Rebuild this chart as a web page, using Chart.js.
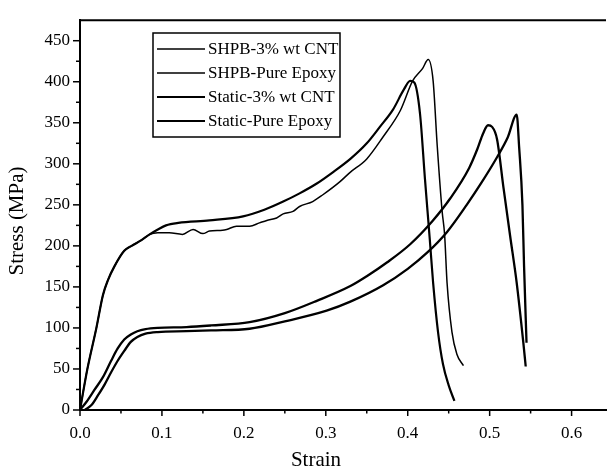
<!DOCTYPE html>
<html>
<head>
<meta charset="utf-8">
<script src="https://cdn.jsdelivr.net/npm/chart.js@4/dist/chart.umd.min.js"></script>
<style>
  html, body { margin: 0; padding: 0; background: #fff; }
  #wrap { width: 609px; height: 476px; }
</style>
</head>
<body>
<div id="wrap"><canvas id="chart" width="609" height="476"></canvas></div>
<script>
// values
const seriesNames = ['SHPB-3% wt CNT', 'SHPB-Pure Epoxy', 'Static-3% wt CNT', 'Static-Pure Epoxy'];

const shpbCntStrain = [0, 0.009, 0.02, 0.028, 0.034, 0.042, 0.054, 0.063, 0.075, 0.085, 0.095, 0.109, 0.125, 0.138, 0.15, 0.158, 0.174, 0.179, 0.191, 0.207, 0.219, 0.228, 0.24, 0.248, 0.26, 0.268, 0.284, 0.296, 0.317, 0.329, 0.35, 0.37, 0.391, 0.406, 0.418, 0.425, 0.431, 0.436, 0.442, 0.445, 0.448, 0.454, 0.46, 0.468];
const shpbCntStress = [0, 50, 100, 140, 158, 175, 194, 200, 207, 214, 216, 216, 214, 220, 215, 218, 219, 220, 224, 224, 228, 231, 234, 239, 242, 248, 254, 262, 278, 289, 306, 333, 365, 401, 416, 427, 401, 322, 242, 214, 155, 95, 68, 54];

const shpbPureStrain = [0, 0.009, 0.02, 0.028, 0.034, 0.042, 0.054, 0.063, 0.075, 0.085, 0.095, 0.105, 0.12, 0.158, 0.199, 0.225, 0.248, 0.268, 0.289, 0.309, 0.33, 0.35, 0.366, 0.382, 0.395, 0.403, 0.408, 0.415, 0.421, 0.427, 0.431, 0.437, 0.443, 0.45, 0.457];
const shpbPureStress = [0, 50, 100, 140, 158, 175, 194, 200, 207, 214, 220, 225, 228, 231, 236, 244, 254, 264, 276, 290, 306, 325, 345, 366, 390, 401, 399, 361, 282, 207, 155, 95, 56, 30, 11];

const staticCntStrain = [0, 0.008, 0.018, 0.028, 0.038, 0.046, 0.054, 0.062, 0.07, 0.08, 0.095, 0.13, 0.16, 0.207, 0.25, 0.289, 0.33, 0.35, 0.375, 0.403, 0.43, 0.452, 0.475, 0.485, 0.492, 0.498, 0.503, 0.509, 0.517, 0.525, 0.533, 0.541, 0.544];
const staticCntStress = [0, 10, 25, 40, 60, 75, 86, 92, 96, 98.5, 100, 101, 103, 107, 118, 133, 151, 163, 180, 202, 230, 258, 295, 318, 337, 347, 345, 330, 270, 212, 155, 83, 53];

const staticPureStrain = [0.006, 0.014, 0.022, 0.03, 0.038, 0.046, 0.054, 0.062, 0.07, 0.08, 0.095, 0.13, 0.16, 0.207, 0.25, 0.301, 0.33, 0.37, 0.4, 0.424, 0.448, 0.472, 0.49, 0.509, 0.522, 0.533, 0.536, 0.54, 0.542, 0.545];
const staticPureStress = [0, 6, 18, 31, 46, 60, 72, 83, 89, 93, 95, 96, 97, 99, 108, 121, 132, 152, 172, 192, 217, 250, 277, 308, 332, 360, 320, 250, 175, 82];

const xTicks = [0, 0.1, 0.2, 0.3, 0.4, 0.5, 0.6];
const yTicks = [0, 50, 100, 150, 200, 250, 300, 350, 400, 450];

const toPoints = (xs, ys) => xs.map((v, i) => ({ x: v, y: ys[i] }));

const serif = '"Liberation Serif", "Times New Roman", serif';

const decor = {
  id: 'decor',
  afterDraw(chart) {
    const ctx = chart.ctx;
    const a = chart.chartArea;
    const xs = chart.scales.x;
    const ys = chart.scales.y;
    ctx.save();
    ctx.strokeStyle = '#000';
    ctx.fillStyle = '#000';

    // top frame line
    ctx.lineWidth = 2;
    ctx.beginPath();
    ctx.moveTo(a.left - 1, a.top);
    ctx.lineTo(a.right, a.top);
    ctx.stroke();

    // tick marks, major and minor
    ctx.lineWidth = 1.5;
    for (let i = 0; i <= 12; i++) {
      const px = xs.getPixelForValue(i * 0.05);
      const len = i % 2 === 0 ? 6 : 3.5;
      ctx.beginPath();
      ctx.moveTo(px, a.bottom);
      ctx.lineTo(px, a.bottom + len);
      ctx.stroke();
    }
    for (let i = 0; i <= 18; i++) {
      const py = ys.getPixelForValue(i * 25);
      const len = i % 2 === 0 ? 7 : 4;
      ctx.beginPath();
      ctx.moveTo(a.left - len, py);
      ctx.lineTo(a.left, py);
      ctx.stroke();
    }

    // axis titles
    ctx.font = '21px ' + serif;
    ctx.textAlign = 'center';
    ctx.textBaseline = 'middle';
    ctx.fillText('Strain', 316, 460);
    ctx.translate(17, 221);
    ctx.rotate(-Math.PI / 2);
    ctx.fillText('Stress (MPa)', 0, 0);
    ctx.setTransform(1, 0, 0, 1, 0, 0);

    // legend box
    const box = { left: 153, top: 33, right: 340, bottom: 137 };
    ctx.lineWidth = 1.5;
    ctx.strokeRect(box.left, box.top, box.right - box.left, box.bottom - box.top);
    ctx.font = '17px ' + serif;
    ctx.textAlign = 'left';
    chart.data.datasets.forEach((ds, i) => {
      const ly = 49 + i * 24;
      ctx.lineWidth = i < 2 ? 1.5 : 1.8;
      ctx.beginPath();
      ctx.moveTo(157, ly);
      ctx.lineTo(205, ly);
      ctx.stroke();
      ctx.fillText(ds.label, 208, ly + 1);
    });
    ctx.restore();
  }
};

new Chart(document.getElementById('chart'), {
  type: 'scatter',
  data: {
    datasets: [
      { label: seriesNames[0], data: toPoints(shpbCntStrain, shpbCntStress), borderWidth: 1.5 },
      { label: seriesNames[1], data: toPoints(shpbPureStrain, shpbPureStress), borderWidth: 2.2 },
      { label: seriesNames[2], data: toPoints(staticCntStrain, staticCntStress), borderWidth: 2.3 },
      { label: seriesNames[3], data: toPoints(staticPureStrain, staticPureStress), borderWidth: 2.3 }
    ].map(ds => Object.assign(ds, {
      showLine: true,
      borderColor: '#000',
      backgroundColor: '#000',
      pointRadius: 0,
      cubicInterpolationMode: 'monotone'
    }))
  },
  options: {
    responsive: false,
    animation: false,
    layout: { padding: { top: 11, right: 3, left: 0, bottom: 0 } },
    plugins: { legend: { display: false }, tooltip: { enabled: false } },
    scales: {
      x: {
        type: 'linear',
        min: 0,
        max: 0.642,
        afterFit: s => { s.height = 66; },
        afterBuildTicks: s => { s.ticks = xTicks.map(v => ({ value: v })); },
        grid: { display: false, drawTicks: false },
        border: { display: true, color: '#000', width: 2 },
        ticks: {
          color: '#000',
          padding: 13,
          maxRotation: 0,
          font: { family: serif, size: 17 },
          callback: v => v.toFixed(1)
        }
      },
      y: {
        type: 'linear',
        min: 0,
        max: 475,
        afterFit: s => { s.width = 80; },
        afterBuildTicks: s => { s.ticks = yTicks.map(v => ({ value: v })); },
        grid: { display: false, drawTicks: false },
        border: { display: true, color: '#000', width: 2 },
        ticks: {
          color: '#000',
          padding: 10,
          font: { family: serif, size: 17 }
        }
      }
    }
  },
  plugins: [decor]
});
</script>
</body>
</html>
